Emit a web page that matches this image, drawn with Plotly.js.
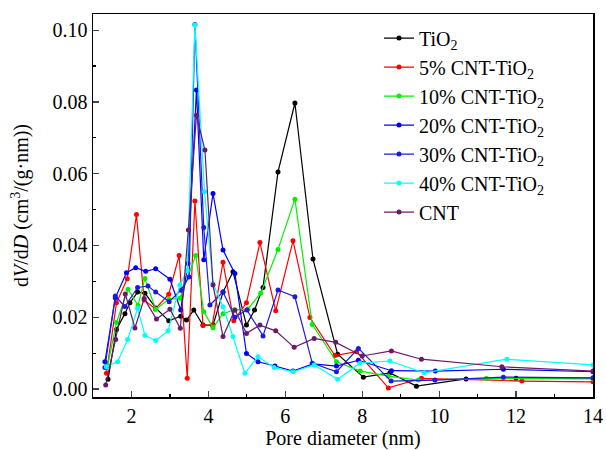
<!DOCTYPE html>
<html><head><meta charset="utf-8">
<script src="https://cdn.plot.ly/plotly-3.0.1.min.js"></script>
<style>html,body{margin:0;padding:0;background:#fff}#chart{width:606px;height:450px}</style>
</head><body><div id="chart"></div>
<script>
const seriesNames = ['TiO<sub>2</sub>','5% CNT-TiO<sub>2</sub>','10% CNT-TiO<sub>2</sub>','20% CNT-TiO<sub>2</sub>','30% CNT-TiO<sub>2</sub>','40% CNT-TiO<sub>2</sub>','CNT'];
const seriesColors = ['#000000','#ff0000','#00f000','#0000ff','#1a1ae6','#00ffff','#6a1a6a'];

const tiO2X = [1.39,1.61,1.83,1.96,2.16,2.35,2.63,2.97,3.28,3.43,3.62,3.86,4.12,4.38,4.64,4.99,5.2,5.42,5.81,6.25,6.72,7.36,8.03,8.72,9.41,10.7,12.0,14];
const tiO2Y = [0.0027,0.0166,0.021,0.024,0.027,0.0267,0.0226,0.019,0.0203,0.0192,0.022,0.0178,0.0178,0.027,0.0327,0.0178,0.022,0.0283,0.0605,0.0797,0.0362,0.0097,0.0033,0.0045,0.0008,0.0028,0.003,0.003];

const cnt5X = [1.35,1.61,1.89,2.13,2.33,2.62,2.97,3.24,3.45,3.65,3.86,4.1,4.38,4.66,4.99,5.34,5.75,6.2,6.64,7.29,7.85,8.68,9.54,12.15,14];
const cnt5Y = [0.0044,0.024,0.0307,0.0486,0.0248,0.0223,0.0264,0.0372,0.003,0.0524,0.0177,0.0178,0.0353,0.019,0.024,0.0408,0.0218,0.0413,0.0199,0.0093,0.0104,0.0003,0.003,0.0022,0.002];

const cnt10X = [1.38,1.61,1.91,2.17,2.35,2.63,2.97,3.26,3.67,3.88,4.12,4.38,4.66,5.03,5.36,5.81,6.25,6.7,7.33,7.95,8.68,9.46,11.23,14];
const cnt10Y = [0.0065,0.0185,0.0278,0.0233,0.0308,0.0222,0.025,0.0253,0.0372,0.0215,0.0171,0.021,0.022,0.0223,0.0267,0.0389,0.0529,0.018,0.0076,0.005,0.0036,0.0025,0.0029,0.0028];

const cnt20X = [1.31,1.58,1.87,2.11,2.37,2.63,3.0,3.28,3.47,3.69,3.88,4.12,4.38,4.69,4.99,5.29,5.73,6.2,6.72,7.33,7.9,8.76,9.9,11.67,14];
const cnt20Y = [0.0076,0.0254,0.0324,0.0338,0.0328,0.0335,0.0306,0.022,0.035,0.0833,0.036,0.0545,0.0387,0.0322,0.0099,0.0076,0.0064,0.005,0.007,0.0064,0.008,0.0051,0.005,0.0055,0.0048];

const cnt30X = [1.31,1.58,1.83,2.16,2.43,2.63,2.98,3.28,3.5,3.65,3.88,4.04,4.38,4.69,5.0,5.42,5.81,6.25,6.7,7.33,7.9,8.75,9.89,11.67,14];
const cnt30Y = [0.006,0.0259,0.023,0.0283,0.0287,0.027,0.0243,0.0275,0.0312,0.1016,0.045,0.0234,0.027,0.02,0.022,0.0148,0.0276,0.0257,0.0072,0.0048,0.0113,0.0022,0.0025,0.0033,0.0031];

const cnt40X = [1.35,1.64,1.9,2.16,2.35,2.63,2.95,3.26,3.45,3.65,3.9,4.12,4.38,4.64,4.95,5.29,5.71,6.2,6.75,7.36,7.94,8.72,9.61,11.76,14];
const cnt40Y = [0.0062,0.0076,0.0138,0.0225,0.015,0.0135,0.0162,0.029,0.033,0.1014,0.055,0.0294,0.0229,0.0146,0.0044,0.009,0.006,0.0048,0.0067,0.0027,0.0072,0.0078,0.0045,0.0083,0.0067];

const cntX = [1.33,1.59,1.84,2.09,2.33,2.65,3.0,3.27,3.48,3.69,3.91,4.12,4.38,4.69,4.99,5.34,5.75,6.23,6.75,7.31,8.0,8.76,9.54,11.63,14];
const cntY = [0.0011,0.0138,0.0265,0.017,0.0252,0.0195,0.0222,0.0169,0.0443,0.0763,0.0666,0.029,0.0146,0.022,0.0155,0.0178,0.0162,0.0116,0.0141,0.013,0.0092,0.0106,0.0083,0.0062,0.005];

const xs = [tiO2X,cnt5X,cnt10X,cnt20X,cnt30X,cnt40X,cntX];
const ys = [tiO2Y,cnt5Y,cnt10Y,cnt20Y,cnt30Y,cnt40Y,cntY];

const traces = seriesNames.map((n,i)=>({
  x: xs[i], y: ys[i], name: n, type:'scatter', mode:'lines+markers',
  line:{color:seriesColors[i], width:1.2},
  marker:{color:seriesColors[i], size:5}
}));

const FAM = 'Liberation Serif, Times New Roman, serif';
const layout = {
  width:606, height:450,
  margin:{l:93, r:13, t:14, b:53},
  paper_bgcolor:'#fff', plot_bgcolor:'#fff',
  font:{family:FAM, color:'#000', size:20},
  showlegend:true,
  legend:{x:0.572, y:0.988, xanchor:'left', yanchor:'top', bgcolor:'rgba(0,0,0,0)', borderwidth:0,
          font:{family:FAM, size:20, color:'#000'}, tracegroupgap:0},
  xaxis:{range:[1,14], tickmode:'array', tickvals:[2,4,6,8,10,12,14], ticks:'inside', ticklen:6, tickwidth:1.2,
         showline:true, mirror:true, linecolor:'#000', linewidth:1.5, showgrid:false, zeroline:false,
         minor:{ticks:'inside', ticklen:3, tickvals:[1,3,5,7,9,11,13], tickcolor:'#000', showgrid:false},
         tickfont:{family:FAM, size:20}, title:{text:'Pore diameter (nm)', font:{family:FAM, size:20}, standoff:4}},
  yaxis:{range:[-0.00223,0.1045], tickmode:'array', tickvals:[0,0.02,0.04,0.06,0.08,0.10], ticktext:['0.00','0.02','0.04','0.06','0.08','0.10'],
         ticks:'inside', ticklen:6, tickwidth:1.2,
         showline:true, mirror:true, linecolor:'#000', linewidth:1.5, showgrid:false, zeroline:false,
         minor:{ticks:'inside', ticklen:3, tickvals:[0.01,0.03,0.05,0.07,0.09], tickcolor:'#000', showgrid:false},
         tickfont:{family:FAM, size:20}, title:{text:'d<i>V</i>/d<i>D</i> (cm<sup>3</sup>/(g·nm))', font:{family:FAM, size:20}, standoff:18}}
};
Plotly.newPlot('chart', traces, layout, {displayModeBar:false, staticPlot:true});
</script></body></html>
